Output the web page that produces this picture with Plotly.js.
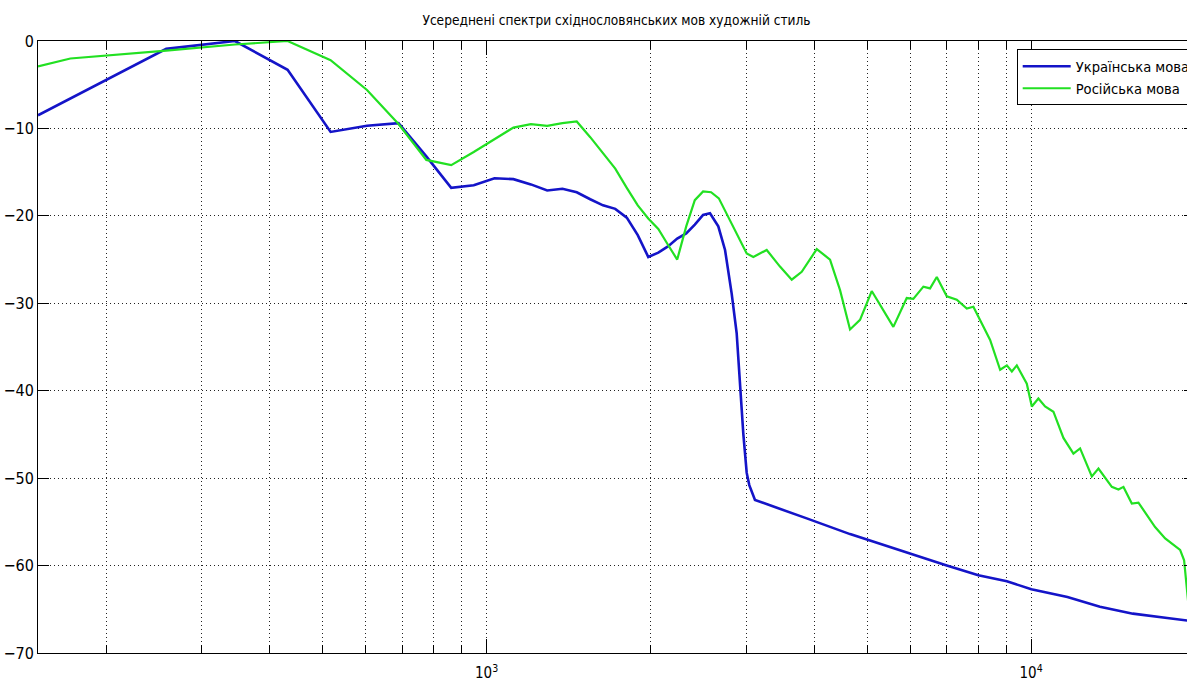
<!DOCTYPE html>
<html>
<head>
<meta charset="utf-8">
<script src="https://cdn.plot.ly/plotly-3.0.1.min.js"></script>
<style>
html, body { margin:0; padding:0; overflow:hidden; background:#fff; }
#chart { width:1196px; height:682px; }
</style>
</head>
<body>
<div id="chart"></div>
<script>
// ---- data ----
const chartTitle = 'Усереднені спектри східнословянських мов художній стиль';
const ukrName = 'Українська мова';
const rusName = 'Російська мова';

const ukrFreq = [150,172,258,345,431,517,603,689,775,861,947,1034,1120,1206,1292,1378,1464,1550,1636,1723,1809,1895,1981,2067,2153,2239,2326,2412,2498,2572,2664,2741,2819,2879,2920,2961,3004,3037,3111,3315,3558,3872,4650,5747,7001,8000,9026,10010,11660,13380,15380,17780,19346,20000];
const ukrDb = [-8.5,-6.6,-0.9,0.0,-3.3,-10.4,-9.7,-9.4,-13.2,-16.8,-16.5,-15.7,-15.8,-16.4,-17.1,-16.9,-17.3,-18.1,-18.8,-19.2,-20.2,-22.2,-24.7,-24.2,-23.5,-22.6,-22.0,-21.0,-19.9,-19.7,-21.2,-23.9,-28.9,-33.4,-39.2,-44.9,-49.4,-50.8,-52.5,-53.1,-53.8,-54.6,-56.4,-58.3,-60.0,-61.1,-61.8,-62.7,-63.6,-64.7,-65.5,-66.0,-66.3,-66.4];

const rusFreq = [150,172,258,345,431,517,603,689,775,861,947,1034,1120,1206,1292,1378,1464,1550,1636,1723,1809,1895,1981,2067,2153,2239,2326,2412,2498,2584,2670,2799,3004,3089,3269,3458,3634,3791,4040,4273,4458,4650,4851,5097,5354,5585,5910,6077,6341,6523,6711,7001,7303,7619,7834,8059,8409,8773,9026,9219,9414,9820,10030,10313,10610,10990,11465,11960,12303,12928,13296,14068,14470,14780,15310,15745,16895,17630,18779,19100,19346,19700];
const rusDb = [-2.9,-2.0,-1.1,-0.4,0.0,-2.2,-5.6,-9.5,-13.6,-14.2,-12.7,-11.2,-9.9,-9.5,-9.7,-9.4,-9.2,-11.0,-12.8,-14.6,-16.8,-18.8,-20.3,-21.5,-23.3,-25.0,-21.2,-18.2,-17.2,-17.3,-18.0,-20.5,-24.3,-24.7,-23.9,-25.8,-27.3,-26.4,-23.8,-25.0,-28.5,-33.0,-31.9,-28.6,-30.8,-32.7,-29.4,-29.5,-28.1,-28.3,-27.0,-29.2,-29.6,-30.6,-30.4,-31.9,-34.2,-37.6,-37.1,-37.8,-37.1,-39.2,-41.8,-40.9,-41.8,-42.4,-45.4,-47.2,-46.6,-49.8,-48.9,-51.0,-51.3,-51.0,-52.9,-52.8,-55.6,-56.9,-58.2,-59.4,-63.2,-68.0];

const xMajorVals = [1000, 10000];
const xMajorText = ['10<sup>3</sup>', '10<sup>4</sup>'];
const xMinorVals = [200,300,400,500,600,700,800,900,2000,3000,4000,5000,6000,7000,8000,9000];
const yTickVals = [0,-10,-20,-30,-40,-50,-60,-70];
const xMin = 150, xMax = 20000, yMin = -70, yMax = 0;

// ---- chart ----
const FONT = "'DejaVu Sans Condensed', 'DejaVu Sans', sans-serif";
const GRID = { showgrid: true, gridcolor: '#222', gridwidth: 1, griddash: '1px,3px' };

const traces = [
  { x: ukrFreq, y: ukrDb, name: ukrName, type: 'scatter', mode: 'lines',
    line: { color: '#1414c8', width: 2.6 } },
  { x: rusFreq, y: rusDb, name: rusName, type: 'scatter', mode: 'lines',
    line: { color: '#22e022', width: 2.2 } }
];

const layout = {
  width: 1196, height: 682,
  margin: { l: 38, r: 1, t: 41, b: 29, autoexpand: false },
  paper_bgcolor: '#fff', plot_bgcolor: '#fff',
  font: { family: FONT, size: 15, color: '#000' },
  title: { text: chartTitle, x: 0.5, xref: 'paper', xanchor: 'center',
           y: 1 - 20/682, yref: 'container', yanchor: 'middle',
           font: { family: FONT, size: 13.6, color: '#000' } },
  xaxis: Object.assign({
    type: 'log', range: [Math.log10(xMin), Math.log10(xMax)],
    tickmode: 'array', tickvals: xMajorVals, ticktext: xMajorText,
    ticks: 'inside', ticklen: 14, tickcolor: '#000', tickwidth: 1,
    ticklabelstandoff: 6,
    showline: true, linecolor: '#000', linewidth: 1, mirror: 'ticks',
    zeroline: false, tickfont: { family: FONT, size: 15 },
    minor: Object.assign({ tickmode: 'array', tickvals: xMinorVals,
      ticks: 'inside', ticklen: 8, tickcolor: '#000', tickwidth: 1 }, GRID)
  }, GRID),
  yaxis: Object.assign({
    range: [yMin, yMax], tickmode: 'array', tickvals: yTickVals,
    ticks: 'inside', ticklen: 11, tickcolor: '#000', tickwidth: 1,
    showline: true, linecolor: '#000', linewidth: 1, mirror: 'ticks',
    zeroline: false, tickfont: { family: FONT, size: 16 }
  }, GRID),
  showlegend: true,
  legend: {
    x: (1016.7 - 38) / 1157, y: 1 - (49.3 - 41) / 612,
    xanchor: 'left', yanchor: 'top',
    bgcolor: '#fff', bordercolor: '#000', borderwidth: 1,
    font: { family: FONT, size: 14.6, color: '#000' },
    itemwidth: 48, tracegroupgap: 0
  }
};

Plotly.newPlot('chart', traces, layout, { displayModeBar: false, staticPlot: true });
</script>
</body>
</html>
